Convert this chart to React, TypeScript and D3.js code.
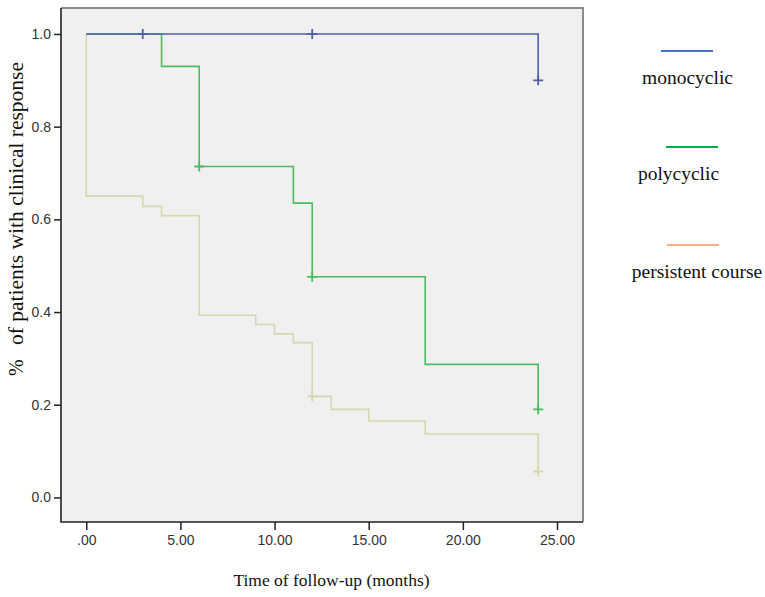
import React, { useEffect, useRef } from 'react';
import * as d3 from 'd3';

// Kaplan-Meier style curves
const monocyclicTimes = [0, 24];
const monocyclicValues = [1.0, 0.9];
const monocyclicCensored = [3, 12, 24];

const polycyclicTimes = [0, 4, 6, 11, 12, 18, 24];
const polycyclicValues = [1.0, 0.93, 0.714, 0.635, 0.476, 0.287, 0.19];
const polycyclicCensored = [6, 12, 24];

const persistentTimes = [0, 0, 3, 4, 6, 9, 10, 11, 12, 13, 15, 18, 24];
const persistentValues = [1.0, 0.65, 0.628, 0.608, 0.393, 0.373, 0.353, 0.334, 0.218, 0.19, 0.165, 0.137, 0.056];
const persistentCensored = [12, 24];

const xTicks = [0, 5, 10, 15, 20, 25];
const yTicks = [0, 0.2, 0.4, 0.6, 0.8, 1.0];

const legendLabels = ['monocyclic', 'polycyclic', 'persistent course'];
const legendColors = ['#4472c4', '#00b050', '#f4b183'];

const W = 765;
const H = 597;

export default function App() {
  const svgRef = useRef<SVGSVGElement>(null);

  useEffect(() => {
    if (!svgRef.current) return;
    const svg = d3.select(svgRef.current);
    svg.selectAll('*').remove();

    const left = 61, right = 583, top = 8, bottom = 522;

    const x = d3.scaleLinear().domain([-1.34, 26.38]).range([left, right]);
    const y = d3.scaleLinear().domain([-0.053, 1.056]).range([bottom, top]);

    // plot background
    svg.append('rect')
      .attr('x', left).attr('y', top)
      .attr('width', right - left).attr('height', bottom - top)
      .attr('fill', '#f0f0f0');

    // frame: top and right grey
    svg.append('path')
      .attr('d', `M${left},${top}H${right}V${bottom}`)
      .attr('fill', 'none')
      .attr('stroke', '#8c8c8c')
      .attr('stroke-width', 2);

    // axes
    const xAxis = svg.append('g')
      .attr('transform', `translate(0,${bottom})`)
      .call(d3.axisBottom(x).tickValues(xTicks).tickSize(8).tickPadding(5)
        .tickFormat(d => (+d === 0 ? '.00' : (+d).toFixed(2))));
    const yAxis = svg.append('g')
      .attr('transform', `translate(${left},0)`)
      .call(d3.axisLeft(y).tickValues(yTicks).tickSize(7).tickPadding(3)
        .tickFormat(d3.format('.1f')));

    [xAxis, yAxis].forEach(a => {
      a.attr('font-size', 14).attr('font-family', 'Arial, "Liberation Sans", sans-serif');
      a.select('.domain').remove();
      a.selectAll('line').attr('stroke', '#222').attr('stroke-width', 1.5);
      a.selectAll('text').attr('fill', '#333');
    });

    // left + bottom axis lines
    svg.append('path')
      .attr('d', `M${left},${top}V${bottom}H${right}`)
      .attr('fill', 'none')
      .attr('stroke', '#222')
      .attr('stroke-width', 1.6);

    const line = d3.line<[number, number]>()
      .x(d => x(d[0]))
      .y(d => y(d[1]))
      .curve(d3.curveStepAfter);

    const series = [
      { times: monocyclicTimes, values: monocyclicValues, censored: monocyclicCensored, color: '#4f60a8' },
      { times: polycyclicTimes, values: polycyclicValues, censored: polycyclicCensored, color: '#4cbd5e' },
      { times: persistentTimes, values: persistentValues, censored: persistentCensored, color: '#d8d6ae' },
    ];

    // draw persistent first so the others sit on top
    [...series].reverse().forEach(s => {
      const pts = s.times.map((t, i) => [t, s.values[i]] as [number, number]);
      svg.append('path')
        .datum(pts)
        .attr('d', line)
        .attr('fill', 'none')
        .attr('stroke', s.color)
        .attr('stroke-width', 1.6);

      s.censored.forEach(t => {
        const idx = d3.bisectRight(s.times, t) - 1;
        const cx = x(t), cy = y(s.values[idx]);
        svg.append('path')
          .attr('d', `M${cx - 5},${cy}H${cx + 5}M${cx},${cy - 5}V${cy + 5}`)
          .attr('stroke', s.color)
          .attr('stroke-width', 1.8);
      });
    });

    // axis titles
    svg.append('text')
      .attr('x', 331.5).attr('y', 586)
      .attr('text-anchor', 'middle')
      .style('font-family', '"Liberation Serif", "Times New Roman", serif')
      .style('font-size', '17.5px')
      .attr('fill', '#111')
      .text('Time of follow-up (months)');

    const yt = svg.append('g').attr('transform', 'translate(23,0) rotate(-90)');
    yt.append('text')
      .attr('x', -345).attr('y', 0)
      .attr('textLength', 283)
      .attr('lengthAdjust', 'spacingAndGlyphs')
      .style('font-family', '"Liberation Serif", "Times New Roman", serif')
      .style('font-size', '20px')
      .attr('fill', '#111')
      .text('of patients with clinical response');
    yt.append('text')
      .attr('x', -376).attr('y', 0)
      .style('font-family', '"Liberation Serif", "Times New Roman", serif')
      .style('font-size', '20px')
      .attr('fill', '#111')
      .text('%');

    // legend
    const legendLineY = [51, 147, 245];
    const legendLineX = [661, 666, 667];
    const legendTextX = [687.5, 678.5, 697];
    legendLabels.forEach((lab, i) => {
      svg.append('line')
        .attr('x1', legendLineX[i]).attr('x2', legendLineX[i] + 52)
        .attr('y1', legendLineY[i]).attr('y2', legendLineY[i])
        .attr('stroke', legendColors[i])
        .attr('stroke-width', 1.8);
      svg.append('text')
        .attr('x', legendTextX[i]).attr('y', legendLineY[i] + 33)
        .attr('text-anchor', 'middle')
        .style('font-family', '"Liberation Serif", "Times New Roman", serif')
        .style('font-size', '19.5px')
        .attr('fill', '#111')
        .text(lab);
    });
  }, []);

  return (
    <svg
      ref={svgRef}
      width={W}
      height={H}
      style={{ position: 'absolute', left: 0, top: 0, background: '#fff' }}
    />
  );
}
